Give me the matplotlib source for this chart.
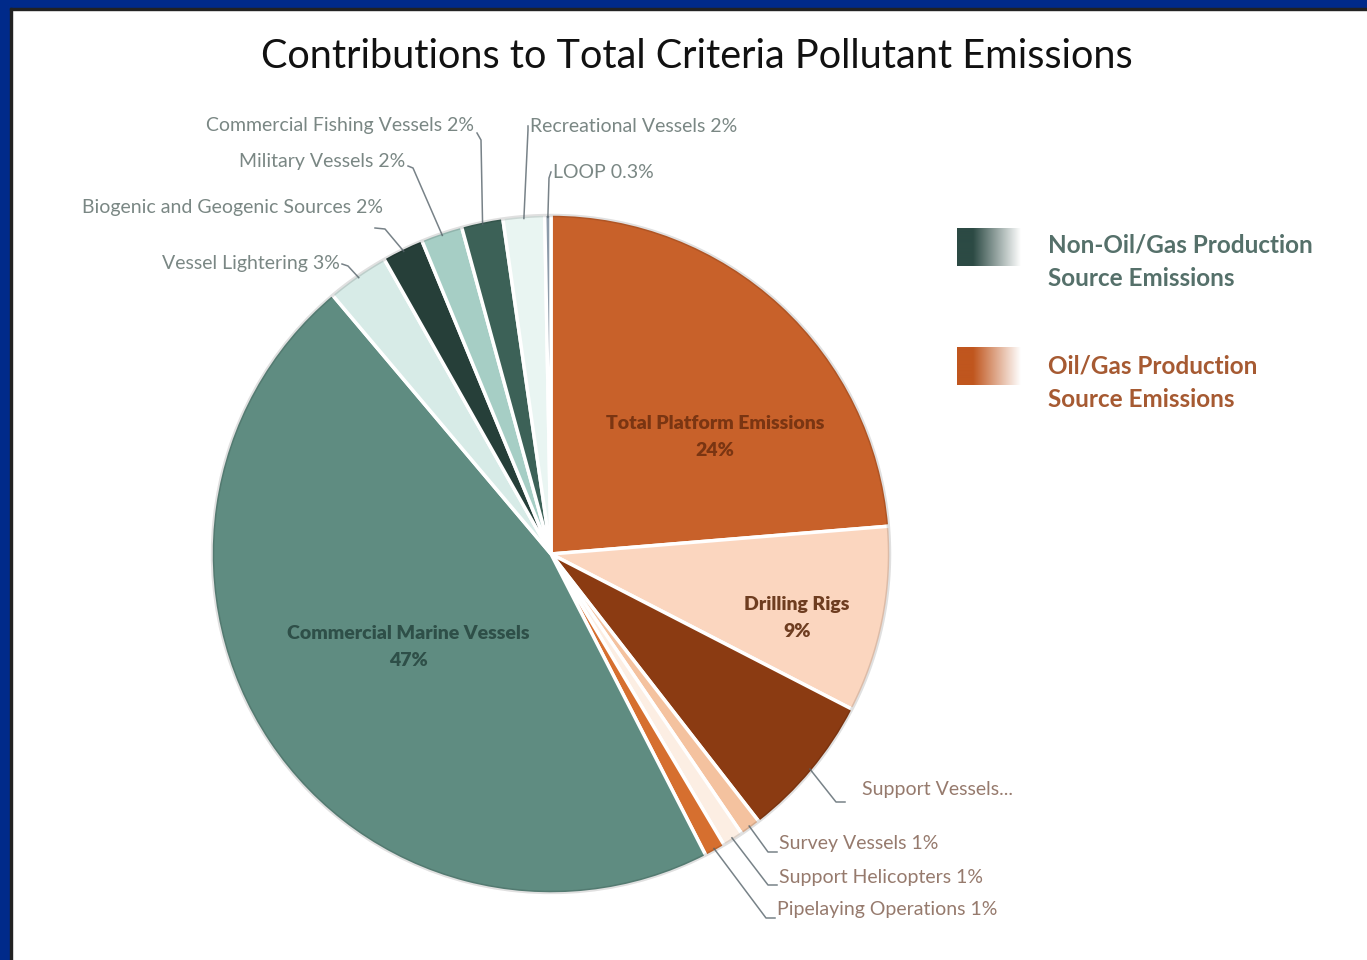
import numpy as np
import matplotlib.pyplot as plt
from matplotlib.colors import LinearSegmentedColormap
from matplotlib.patches import Rectangle

W, H = 1367, 960

# emission sources, clockwise from the top of the pie
sources = [
    "Total Platform Emissions", "Drilling Rigs", "Support Vessels",
    "Survey Vessels", "Support Helicopters", "Pipelaying Operations",
    "Commercial Marine Vessels", "Vessel Lightering",
    "Biogenic and Geogenic Sources", "Military Vessels",
    "Commercial Fishing Vessels", "Recreational Vessels", "LOOP",
]
shares = [24, 9, 7, 1, 1, 1, 47, 3, 2, 2, 2, 2, 0.3]
share_text = ["24%", "9%", "7%", "1%", "1%", "1%", "47%", "3%", "2%", "2%", "2%", "2%", "0.3%"]

colors = ["#C8612A", "#FBD6BF", "#8B3B12", "#F4C29F", "#FCEEE3", "#D66F2F",
          "#5F8C81", "#D7EBE7", "#263F39", "#A6CEC5", "#3C6157", "#E9F5F2", "#8C9BAA"]
explode = [0.015, 0.012, 0, 0, 0, 0, 0.008, 0, 0, 0, 0, 0, 0]

plt.rcParams['font.family'] = ['Lato', 'DejaVu Sans']

fig = plt.figure(figsize=(W / 100, H / 100), dpi=100)
ax = fig.add_axes([0, 0, 1, 1])

cx, cy, R = 551, H - 554, 340
wedges, _ = ax.pie(shares, colors=colors, startangle=90, counterclock=False,
                   explode=explode, center=(cx, cy), radius=R,
                   wedgeprops=dict(edgecolor="white", linewidth=2.5))
ax.set_aspect("auto")
ax.axis("off")

# soft darker rim on each slice
for w in wedges:
    t = np.linspace(np.deg2rad(w.theta1), np.deg2rad(w.theta2), 60)
    ox, oy = w.center
    ax.plot(ox + (w.r - 1.5) * np.cos(t), oy + (w.r - 1.5) * np.sin(t),
            color="black", alpha=0.12, lw=2.5, solid_capstyle="butt")


def edge_point(i, frac=1.0):
    w = wedges[i]
    mid = np.deg2rad((w.theta1 + w.theta2) / 2)
    ox, oy = w.center
    return ox + w.r * frac * np.cos(mid), oy + w.r * frac * np.sin(mid)


# labels inside the big slices
inside = {0: (715, 437, "#7A3512"), 1: (797, 618, "#6E3D20"), 6: (408, 647, "#2E4F48")}
for i, (x, y, c) in inside.items():
    ax.text(x, H - y, f"{sources[i]}\n{share_text[i]}", ha="center", va="center",
            fontsize=14, fontweight="heavy", color=c, linespacing=1.7)

# outside labels: text position, alignment, colour, leader line start
top_col = "#7A8784"
bot_col = "#967A6D"
line_col = "#56636A"
outside = {
    10: (474, 126, "right", top_col, [(477, 133), (481, 140)]),
    11: (530, 126, "left", top_col, [(528, 126), (528, 130)]),
    9: (405, 161, "right", top_col, [(408, 166), (413, 168)]),
    12: (553, 172, "left", top_col, [(551, 172), (549, 178)]),
    8: (383, 208, "right", top_col, [(375, 228), (385, 229)]),
    7: (340, 263, "right", top_col, [(342, 264), (348, 266)]),
    2: (862, 789, "left", bot_col, [(845, 802), (836, 802)]),
    3: (779, 843, "left", bot_col, [(777, 852), (768, 852)]),
    4: (779, 877, "left", bot_col, [(777, 885), (768, 885)]),
    5: (777, 910, "left", bot_col, [(775, 918), (766, 918)]),
}
for i, (x, y, ha, c, start) in outside.items():
    name = "Support Vessels..." if i == 2 else f"{sources[i]} {share_text[i]}"
    ax.text(x, H - y, name, ha=ha, va="center", fontsize=14, color=c)
    ex, ey = edge_point(i, 0.99)
    xs = [p[0] for p in start] + [ex]
    ys = [H - p[1] for p in start] + [ey]
    ax.plot(xs, ys, color=line_col, lw=1.1, alpha=0.8)

# title
ax.text(697, H - 57, "Contributions to Total Criteria Pollutant Emissions",
        ha="center", va="center", fontsize=28.5, color="#111111")

# gradient legend swatches
grad = np.linspace(0, 1, 256).reshape(1, -1)
legend_items = [
    ("Non-Oil/Gas Production\nSource Emissions", "#2C4A44", "#55706A", 247, 262),
    ("Oil/Gas Production\nSource Emissions", "#C0561E", "#A65A32", 366, 383),
]
for label, dark, txt_col, ymid, ytxt in legend_items:
    cmap = LinearSegmentedColormap.from_list(
        "g", [(0, dark), (0.25, dark), (1, "#FFFFFF")])
    ax.imshow(grad, cmap=cmap, extent=(957, 1021, H - ymid - 19, H - ymid + 19),
              aspect="auto", zorder=3)
    ax.text(1048, H - ytxt, label, ha="left", va="center", fontsize=17.5,
            fontweight="bold", color=txt_col, linespacing=1.55)
ax.set_xlim(0, W)
ax.set_ylim(0, H)

# slide frame: blue band on top and left with a dark inner line
fig.patches.append(Rectangle((0, 1 - 8 / H), 1, 8 / H, transform=fig.transFigure,
                             color="#002A8A", zorder=10))
fig.patches.append(Rectangle((0, 0), 10 / W, 1, transform=fig.transFigure,
                             color="#002A8A", zorder=10))
fig.patches.append(Rectangle((10 / W, 0), 2 / W, 1 - 8 / H, transform=fig.transFigure,
                             color="#222222", zorder=10))
fig.patches.append(Rectangle((10 / W, 1 - 10 / H), 1, 2 / H, transform=fig.transFigure,
                             color="#222222", zorder=10))

fig.savefig("out.png", dpi=100, facecolor="white")
